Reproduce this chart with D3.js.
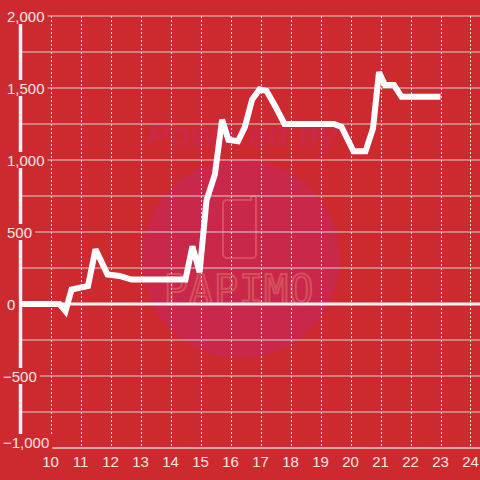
<!DOCTYPE html>
<html>
<head>
<meta charset="utf-8">
<script src="https://cdn.jsdelivr.net/npm/d3@7"></script>
<style>
  html, body { margin: 0; padding: 0; background: #cd2a2f; }
  svg { display: block; }
</style>
</head>
<body>
<div id="chart"></div>
<script>
// series
const times = [9, 10.3, 10.5, 10.7, 11.25, 11.5, 11.9, 12.3, 12.7, 14.5, 14.73, 14.97, 15.2, 15.48, 15.72,
               15.93, 16.25, 16.48, 16.72, 16.97, 17.2, 17.5, 17.8, 19.45, 19.7, 20.1, 20.5, 20.75, 20.95,
               21.15, 21.45, 21.7, 23.0]
const values = [0, 0, -50, 100, 125, 380, 205, 195, 170, 170, 400, 220, 720, 900, 1280,
                1140, 1130, 1230, 1420, 1490, 1480, 1370, 1250, 1250, 1230, 1060, 1060, 1220, 1610,
                1520, 1520, 1440, 1440]

const xTicks = [10, 11, 12, 13, 14, 15, 16, 17, 18, 19, 20, 21, 22, 23, 24]
const yGrid = [-750, -500, -250, 0, 250, 500, 750, 1000, 1250, 1500, 1750, 2000]
const yLabels = [-1000, -500, 0, 500, 1000, 1500, 2000]

const width = 480
const height = 480
const bg = "#cd2a2f"
const font = "'Liberation Sans', Arial, sans-serif"

const x = d3.scaleLinear().domain([9, 24.3]).range([20.5, 479.5])
const y = d3.scaleLinear().domain([-1000, 2000]).range([448, 16])

const svg = d3.select("#chart").append("svg")
    .attr("width", width)
    .attr("height", height)

svg.append("rect").attr("width", width).attr("height", height).attr("fill", bg)

// watermark
const wm = svg.append("g")
wm.append("circle").attr("cx", 240.5).attr("cy", 259).attr("r", 99).attr("fill", "#c9284a")
wm.append("text")
    .attr("x", 243).attr("y", 146)
    .attr("text-anchor", "middle")
    .attr("font-family", font)
    .attr("font-size", 34)
    .attr("font-weight", "bold")
    .attr("font-style", "italic")
    .attr("fill", "#c92947")
    .text("Powered by")
wm.append("path")
    .attr("d", "M227,200 H251 L251,198 Q251,196 253,196 H254 Q256,196 256,198 V254 Q256,258 252,258 H227 Q223,258 223,254 V204 Q223,200 227,200 Z")
    .attr("fill", "none")
    .attr("stroke", "#d5505d")
    .attr("stroke-width", 2)
wm.append("text")
    .attr("x", 239).attr("y", 304)
    .attr("text-anchor", "middle")
    .attr("font-family", "'DejaVu Sans Mono', monospace")
    .attr("font-size", 40)
    .attr("letter-spacing", 1)
    .attr("fill", "none")
    .attr("stroke", "#d5505d")
    .attr("stroke-width", 2)
    .text("PAPIMO")

// horizontal grid
svg.append("g")
    .selectAll("line")
    .data(yGrid)
    .join("line")
    .attr("x1", x(9)).attr("x2", width)
    .attr("y1", d => y(d)).attr("y2", d => y(d))
    .attr("stroke", "#d4d4d4")
    .attr("stroke-width", 1.2)

// vertical dashed grid
svg.append("g")
    .selectAll("line")
    .data(xTicks)
    .join("line")
    .attr("x1", d => Math.round(x(d)) + 0.5).attr("x2", d => Math.round(x(d)) + 0.5)
    .attr("y1", y(2000)).attr("y2", y(-1000))
    .attr("stroke", "#e6e6e6")
    .attr("stroke-width", 1)
    .attr("stroke-dasharray", "2,2")

// x axis line
svg.append("line")
    .attr("x1", x(9)).attr("x2", width)
    .attr("y1", y(-1000)).attr("y2", y(-1000))
    .attr("stroke", "#d4d4d4")
    .attr("stroke-width", 1.5)

// zero line
svg.append("line")
    .attr("x1", x(9)).attr("x2", width)
    .attr("y1", y(0)).attr("y2", y(0))
    .attr("stroke", "#f4f4f4")
    .attr("stroke-width", 3)

// y axis line
svg.append("line")
    .attr("x1", x(9)).attr("x2", x(9))
    .attr("y1", y(2000)).attr("y2", y(-1000))
    .attr("stroke", "#f4f4f4")
    .attr("stroke-width", 3.5)

// y labels with background boxes (bottom one is nudged up to stay inside)
const fmt = d3.format(",")
const yl = svg.append("g")
    .selectAll("g")
    .data(yLabels)
    .join("g")
    .attr("transform", d => `translate(0,${y(d) - (d === -1000 ? 6 : 0)})`)
const ybg = yl.append("rect").attr("fill", bg)
const ytxt = yl.append("text")
    .attr("x", d => d < 0 ? 3 : 7)
    .attr("y", 5.5)
    .attr("font-family", font)
    .attr("font-size", 15)
    .attr("fill", "#f6e4e4")
    .text(d => fmt(d))
ytxt.each(function (d, i) {
    const b = this.getBBox()
    d3.select(ybg.nodes()[i])
        .attr("x", 0).attr("y", -8)
        .attr("width", b.x + b.width + 3).attr("height", d === -1000 ? 22 : 16)
})

// x labels
svg.append("g")
    .selectAll("text")
    .data(xTicks)
    .join("text")
    .attr("x", d => x(d))
    .attr("y", 467)
    .attr("text-anchor", "middle")
    .attr("font-family", font)
    .attr("font-size", 15)
    .attr("fill", "#f6e4e4")
    .text(d => d)

// data line
const line = d3.line().x(d => x(d[0])).y(d => y(d[1]))
svg.append("path")
    .datum(d3.zip(times, values))
    .attr("d", line)
    .attr("fill", "none")
    .attr("stroke", "#ffffff")
    .attr("stroke-width", 6)
    .attr("stroke-linejoin", "miter")
    .attr("stroke-miterlimit", 3)
</script>
</body>
</html>
